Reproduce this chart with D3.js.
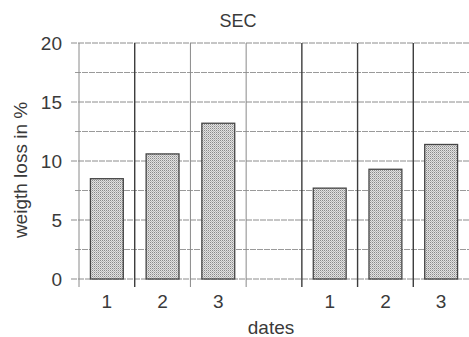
<!DOCTYPE html>
<html>
<head>
<meta charset="utf-8">
<script src="https://cdn.jsdelivr.net/npm/d3@7"></script>
<style>
  html, body { margin: 0; padding: 0; background: #fff; }
  svg { display: block; }
  text { font-family: "Liberation Sans", Arial, sans-serif; fill: #3a3a3a; }
</style>
</head>
<body>
<svg id="chart" width="469" height="337"></svg>
<script>
// Weight loss per date, two groups of three dates separated by an empty slot
const slots = ["a1", "a2", "a3", "gap", "b1", "b2", "b3"];
const slotLabels = ["1", "2", "3", "", "1", "2", "3"];
const weightLoss = [8.5, 10.6, 13.2, null, 7.7, 9.3, 11.4];
const yTicks = [0, 5, 10, 15, 20];
const yMinorTicks = [2.5, 7.5, 12.5, 17.5];
const title = "SEC";
const xTitle = "dates";
const yTitle = "weigth loss in %";

const svg = d3.select("#chart");
const margin = { left: 79, right: 0, top: 43, bottom: 58 };
const W = 469, H = 337;

const x = d3.scaleBand()
  .domain(slots)
  .range([margin.left, W - margin.right])
  .paddingInner(0)
  .paddingOuter(0);

const y = d3.scaleLinear()
  .domain([0, 20])
  .range([H - margin.bottom, margin.top]);

// stipple fill for the bars
const defs = svg.append("defs");
const pat = defs.append("pattern")
  .attr("id", "stipple")
  .attr("patternUnits", "userSpaceOnUse")
  .attr("width", 2).attr("height", 2);
pat.append("rect").attr("width", 2).attr("height", 2).attr("fill", "#e2e2e2");
pat.append("rect").attr("width", 1).attr("height", 1).attr("fill", "#8a8a8a");
pat.append("rect").attr("x", 1).attr("y", 1).attr("width", 1).attr("height", 1).attr("fill", "#b8b8b8");

const g = svg.append("g");

// horizontal grid: major lines reach further left as ticks
g.selectAll("line.major").data(yTicks).join("line")
  .attr("x1", margin.left - 8).attr("x2", W)
  .attr("y1", d => y(d)).attr("y2", d => y(d))
  .attr("stroke", "#8c8c8c").attr("stroke-width", 1)
  .attr("stroke-dasharray", "6,1");
g.selectAll("line.minor").data(yMinorTicks).join("line")
  .attr("x1", margin.left - 4).attr("x2", W)
  .attr("y1", d => y(d)).attr("y2", d => y(d))
  .attr("stroke", "#9a9a9a").attr("stroke-width", 1)
  .attr("stroke-dasharray", "6,1");

// vertical slot boundaries, extending below the axis as ticks
const boundaries = slots.map(s => x(s));
const heavy = new Set([1, 4, 5, 6]);
g.selectAll("line.vb").data(boundaries).join("line")
  .attr("x1", d => d).attr("x2", d => d)
  .attr("y1", y(20)).attr("y2", y(0) + 8)
  .attr("stroke", (d, i) => heavy.has(i) ? "#3c3c3c" : "#8a8a8a")
  .attr("stroke-width", (d, i) => heavy.has(i) ? 1.4 : 1);

// bars
const bw = x.bandwidth() * 0.59;
g.selectAll("rect.bar")
  .data(slots.map((s, i) => ({ s, v: weightLoss[i] })).filter(d => d.v != null))
  .join("rect")
  .attr("x", d => x(d.s) + (x.bandwidth() - bw) / 2)
  .attr("width", bw)
  .attr("y", d => y(d.v))
  .attr("height", d => y(0) - y(d.v))
  .attr("fill", "url(#stipple)")
  .attr("stroke", "#454545")
  .attr("stroke-width", 1.3);

// y tick labels
const yAxis = d3.axisLeft(y).tickValues(yTicks).tickSize(0).tickPadding(0);
const ya = svg.append("g").attr("transform", `translate(${margin.left - 17},0)`).call(yAxis);
ya.select(".domain").remove();
ya.selectAll("text")
  .attr("font-size", 19).attr("fill", "#3a3a3a")
  .attr("font-family", "Liberation Sans, Arial, sans-serif")
  .attr("dy", "0.36em");

// x tick labels
const xAxis = d3.axisBottom(x).tickFormat((d, i) => slotLabels[i]).tickSize(0).tickPadding(0);
const xa = svg.append("g").attr("transform", `translate(0,${y(0) + 29})`).call(xAxis);
xa.select(".domain").remove();
xa.selectAll("text")
  .attr("font-size", 19).attr("fill", "#3a3a3a")
  .attr("font-family", "Liberation Sans, Arial, sans-serif")
  .attr("dy", 0);

// titles
svg.append("text").attr("x", 238).attr("y", 27)
  .attr("text-anchor", "middle").attr("font-size", 18).text(title);
svg.append("text").attr("x", 271).attr("y", 334)
  .attr("text-anchor", "middle").attr("font-size", 19).text(xTitle);
svg.append("text")
  .attr("transform", "translate(27,170) rotate(-90)")
  .attr("text-anchor", "middle").attr("font-size", 19).text(yTitle);
</script>
</body>
</html>
